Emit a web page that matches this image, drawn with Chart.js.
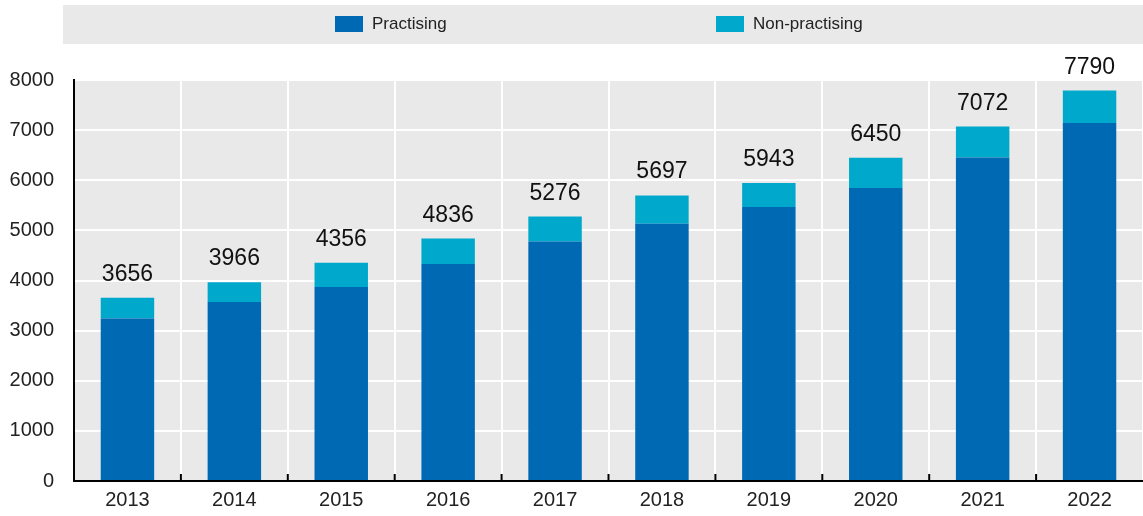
<!DOCTYPE html>
<html>
<head>
<meta charset="utf-8">
<script src="https://cdn.jsdelivr.net/npm/chart.js@4.4.1/dist/chart.umd.min.js"></script>
<style>
  html, body { margin: 0; padding: 0; background: #ffffff; }
  #wrap { position: relative; width: 1143px; height: 516px; }
</style>
</head>
<body>
<div id="wrap"><canvas id="c" width="1143" height="516"></canvas></div>
<script>
const years = ['2013','2014','2015','2016','2017','2018','2019','2020','2021','2022'];
const totals = [3656, 3966, 4356, 4836, 5276, 5697, 5943, 6450, 7072, 7790];
const practising = [3240, 3570, 3870, 4330, 4780, 5130, 5465, 5845, 6455, 7140];
const nonPractising = [416, 396, 486, 506, 496, 567, 478, 605, 617, 650];
const yTicks = [0, 1000, 2000, 3000, 4000, 5000, 6000, 7000, 8000];

const FONT = "'Liberation Sans', Arial, sans-serif";

const bgPlugin = {
  id: 'plotBg',
  beforeDraw(chart) {
    const { ctx, chartArea: a } = chart;
    ctx.save();
    ctx.fillStyle = '#e9e9e9';
    ctx.fillRect(a.left, a.top, a.right - a.left, a.bottom - a.top);
    ctx.fillRect(63, 5, 1143 - 63, 39);
    ctx.restore();
  }
};

const legendPlugin = {
  id: 'customLegend',
  afterDraw(chart) {
    const { ctx } = chart;
    const pos = [335, 716];
    ctx.save();
    ctx.font = '17px ' + FONT;
    ctx.textBaseline = 'middle';
    ctx.textAlign = 'left';
    chart.data.datasets.forEach((ds, i) => {
      ctx.fillStyle = ds.backgroundColor;
      ctx.fillRect(pos[i], 16, 28, 16);
      ctx.fillStyle = '#222222';
      ctx.fillText(ds.label, pos[i] + 37, 24.5);
    });
    ctx.restore();
  }
};

const totalLabels = {
  id: 'totalLabels',
  afterDatasetsDraw(chart) {
    const { ctx } = chart;
    const y = chart.scales.y;
    const meta = chart.getDatasetMeta(0);
    ctx.save();
    ctx.font = '23px ' + FONT;
    ctx.fillStyle = '#111111';
    ctx.textAlign = 'center';
    ctx.textBaseline = 'alphabetic';
    totals.forEach((t, i) => {
      const x = meta.data[i].x;
      ctx.fillText(String(t), x, y.getPixelForValue(t) - 17);
    });
    ctx.restore();
  }
};

const innerTicks = {
  id: 'innerTicks',
  afterDraw(chart) {
    const { ctx, chartArea: a } = chart;
    const xs = chart.scales.x;
    ctx.save();
    ctx.strokeStyle = '#000';
    ctx.lineWidth = 2;
    for (let i = 1; i < years.length; i++) {
      const x = (xs.getPixelForTick(i - 1) + xs.getPixelForTick(i)) / 2;
      ctx.beginPath();
      ctx.moveTo(x, a.bottom);
      ctx.lineTo(x, a.bottom - 7);
      ctx.stroke();
    }
    ctx.restore();
  }
};

new Chart(document.getElementById('c'), {
  type: 'bar',
  data: {
    labels: years,
    datasets: [
      { label: 'Practising', data: practising, backgroundColor: '#0069b4', borderWidth: 0, barPercentage: 0.5, categoryPercentage: 1.0 },
      { label: 'Non-practising', data: nonPractising, backgroundColor: '#00a9cc', borderWidth: 0, barPercentage: 0.5, categoryPercentage: 1.0 }
    ]
  },
  options: {
    responsive: false,
    animation: false,
    devicePixelRatio: 1,
    layout: { padding: { top: 80, left: 0, right: 0, bottom: -3 } },
    plugins: {
      legend: { display: false },
      tooltip: { enabled: false }
    },
    scales: {
      x: {
        stacked: true,
        offset: true,
        grid: { color: '#ffffff', lineWidth: 2, drawTicks: false, offset: true },
        border: { color: '#000000', width: 2 },
        ticks: { font: { size: 20, family: FONT }, color: '#222222', padding: 7 }
      },
      y: {
        stacked: true,
        min: 0,
        max: 8000,
        afterBuildTicks(scale) { scale.ticks = yTicks.map(v => ({ value: v })); },
        afterFit(scale) { scale.width = 74; },
        grid: { color: '#ffffff', lineWidth: 2, drawTicks: false },
        border: { color: '#000000', width: 2 },
        ticks: { font: { size: 20, family: FONT }, color: '#222222', padding: 20, callback: v => String(v) }
      }
    }
  },
  plugins: [bgPlugin, legendPlugin, totalLabels, innerTicks]
});
</script>
</body>
</html>
